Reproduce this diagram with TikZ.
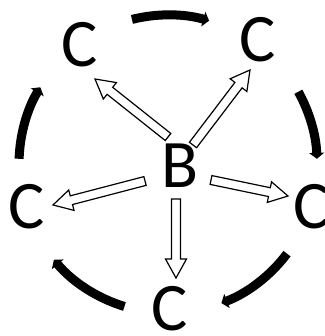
\documentclass[tikz,border=0pt]{standalone}
\usepackage{fontspec}
\setmainfont{Carlito}
\usetikzlibrary{arrows.meta, calc}

% hollow block arrow from #1 (tail) to #2 (tip)
\newcommand{\openarrow}[2]{%
  \coordinate (t) at #1;
  \coordinate (h) at #2;
  \coordinate (m) at ($(h)!19pt!(t)$);
  \draw[hollow] ($(t)!4.5pt!90:(h)$) -- ($(m)!4.5pt!-90:(t)$) -- ($(m)!10.5pt!-90:(t)$)
    -- (h) -- ($(m)!10.5pt!90:(t)$) -- ($(m)!4.5pt!90:(t)$) -- ($(t)!4.5pt!-90:(h)$) -- cycle;
}

\begin{document}
\begin{tikzpicture}[
    x=1pt, y=1pt,
    letter/.style={inner sep=0pt, font=\fontsize{68}{70}\selectfont},
    hollow/.style={draw, fill=white, line width=1.2pt, line join=miter},
    flow/.style={line width=9pt, -{Triangle[length=6pt, width=15pt]}}
]
\useasboundingbox (0,0) rectangle (324,336);

\coordinate (O) at (168,172);

\node[letter] (B) at (180,170) {B};
\node[letter] (cTL) at (79.5,291) {C};
\node[letter] (cTR) at (258,296.5) {C};
\node[letter] (cL) at (27,129) {C};
\node[letter] (cR) at (312,129) {C};
\node[letter] (cB) at (170,27) {C};

% B to each C
\openarrow{([shift={(-12,29)}]B.center)}{([shift={(15.5,-34)}]cTL.center)}
\openarrow{([shift={(13,21)}]B.center)}{([shift={(-8,-30.5)}]cTR.center)}
\openarrow{([shift={(-35,-15)}]B.center)}{([shift={(26,2)}]cL.center)}
\openarrow{([shift={(31,-14)}]B.center)}{([shift={(-24,11)}]cR.center)}
\openarrow{([shift={(-4,-33)}]B.center)}{([shift={(6,31)}]cB.center)}

% clockwise cycle
\draw[flow] ($(O)+(104:149)$) arc[start angle=104, end angle=74, radius=149];
\draw[flow] ($(O)+(29:149)$) arc[start angle=29, end angle=2, radius=149];
\draw[flow] ($(O)+(-37:149)$) arc[start angle=-37, end angle=-69, radius=149];
\draw[flow] ($(O)+(-107:149)$) arc[start angle=-107, end angle=-140, radius=149];
\draw[flow] ($(O)+(178:149)$) arc[start angle=178, end angle=149, radius=149];

\end{tikzpicture}
\end{document}
